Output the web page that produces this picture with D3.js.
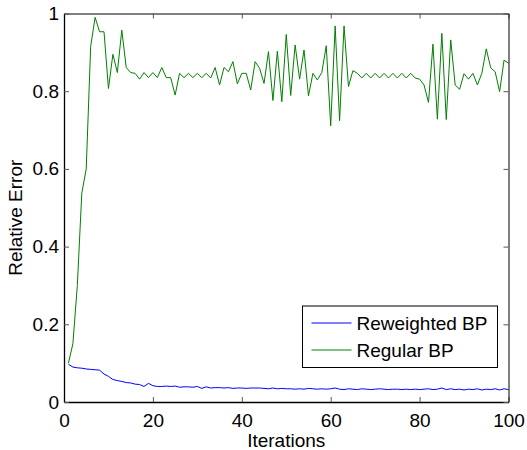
<!DOCTYPE html>
<html>
<head>
<meta charset="utf-8">
<script src="https://cdn.jsdelivr.net/npm/d3@7"></script>
<style>
  body { margin: 0; background: #fff; }
  svg { display: block; font-family: "Liberation Sans", Arial, sans-serif; }
</style>
</head>
<body>
<svg id="chart" width="527" height="450"></svg>
<script>
// iteration index 1..100
const iterations = d3.range(1, 101);

const regularBP = [
  0.100, 0.150, 0.300, 0.537, 0.600, 0.915, 0.990, 0.953, 0.953, 0.807,
  0.895, 0.848, 0.957, 0.861, 0.848, 0.846, 0.831, 0.848, 0.835, 0.848,
  0.835, 0.861, 0.835, 0.835, 0.790, 0.846, 0.835, 0.846, 0.835, 0.846,
  0.835, 0.846, 0.834, 0.861, 0.816, 0.861, 0.850, 0.876, 0.819, 0.846,
  0.846, 0.803, 0.876, 0.859, 0.820, 0.902, 0.776, 0.903, 0.773, 0.946,
  0.789, 0.919, 0.831, 0.906, 0.788, 0.846, 0.829, 0.848, 0.917, 0.711,
  0.968, 0.724, 0.968, 0.812, 0.853, 0.846, 0.834, 0.846, 0.834, 0.846,
  0.834, 0.846, 0.834, 0.846, 0.834, 0.846, 0.834, 0.846, 0.834, 0.831,
  0.816, 0.771, 0.921, 0.728, 0.949, 0.727, 0.932, 0.816, 0.805, 0.845,
  0.831, 0.846, 0.816, 0.846, 0.909, 0.860, 0.850, 0.799, 0.880, 0.872
];

const reweightedBP = [
  0.097, 0.090, 0.088, 0.087, 0.085, 0.084, 0.083, 0.082, 0.072, 0.066,
  0.058, 0.055, 0.053, 0.050, 0.049, 0.046, 0.045, 0.040, 0.048, 0.042,
  0.040, 0.040, 0.041, 0.040, 0.041, 0.038, 0.039, 0.039, 0.038, 0.040,
  0.035, 0.039, 0.036, 0.037, 0.037, 0.036, 0.037, 0.035, 0.036, 0.036,
  0.035, 0.036, 0.036, 0.036, 0.035, 0.034, 0.036, 0.034, 0.035, 0.034,
  0.034, 0.033, 0.034, 0.033, 0.035, 0.034, 0.033, 0.034, 0.033, 0.034,
  0.036, 0.033, 0.032, 0.034, 0.033, 0.032, 0.034, 0.033, 0.032, 0.033,
  0.034, 0.033, 0.032, 0.033, 0.033, 0.032, 0.033, 0.032, 0.033, 0.032,
  0.033, 0.034, 0.032, 0.033, 0.036, 0.032, 0.034, 0.032, 0.033, 0.031,
  0.033, 0.032, 0.034, 0.031, 0.033, 0.032, 0.034, 0.031, 0.034, 0.032
];

const xTicks = [0, 20, 40, 60, 80, 100];
const yTicks = [0, 0.2, 0.4, 0.6, 0.8, 1];

const series = [
  { name: 'Reweighted BP', values: reweightedBP, color: '#0000ff' },
  { name: 'Regular BP', values: regularBP, color: '#008000' },
];

const width = 527, height = 450;
const margin = { top: 13.5, right: 18.5, bottom: 48, left: 64 };
const fontSize = 19;
const svg = d3.select('#chart');

const x = d3.scaleLinear().domain([0, 100]).range([margin.left, width - margin.right]);
const y = d3.scaleLinear().domain([0, 1]).range([height - margin.bottom, margin.top]);

// plot lines first so the box sits on top
const line = d3.line().x((d, i) => x(iterations[i])).y((d) => y(d));
svg.append('g')
  .selectAll('path')
  .data(series.slice().reverse())
  .join('path')
  .attr('fill', 'none')
  .attr('stroke', (d) => d.color)
  .attr('stroke-width', 1)
  .attr('d', (d) => line(d.values));

// axes, ticks pointing inward like matlab
const tickLen = 5;
svg.append('g')
  .attr('transform', `translate(0,${y(0)})`)
  .call(d3.axisBottom(x).tickValues(xTicks).tickFormat(String).tickSizeInner(-tickLen).tickSizeOuter(0).tickPadding(12))
  .call((g) => g.select('.domain').attr('stroke-width', 1.3));
svg.append('g')
  .attr('transform', `translate(0,${y(1)})`)
  .call(d3.axisTop(x).tickValues(xTicks).tickFormat('').tickSizeInner(-tickLen).tickSizeOuter(0))
  .call((g) => g.select('.domain').attr('stroke-width', 1));
svg.append('g')
  .attr('transform', `translate(${x(0)},0)`)
  .call(d3.axisLeft(y).tickValues(yTicks).tickFormat(String).tickSizeInner(-tickLen).tickSizeOuter(0).tickPadding(5))
  .call((g) => g.select('.domain').attr('stroke-width', 1.3));
svg.append('g')
  .attr('transform', `translate(${x(100)},0)`)
  .call(d3.axisRight(y).tickValues(yTicks).tickFormat('').tickSizeInner(-tickLen).tickSizeOuter(0))
  .call((g) => g.select('.domain').attr('stroke-width', 1));

svg.selectAll('.tick text')
  .attr('font-size', fontSize)
  .attr('font-family', '"Liberation Sans", Arial, sans-serif')
  .attr('fill', '#000');
svg.selectAll('.tick line').attr('stroke', '#555');

// axis titles
svg.append('text')
  .attr('x', (x(0) + x(100)) / 2)
  .attr('y', 447)
  .attr('text-anchor', 'middle')
  .attr('font-size', fontSize)
  .text('Iterations');
svg.append('text')
  .attr('transform', `translate(22,${(y(0) + y(1)) / 2 + 10}) rotate(-90)`)
  .attr('text-anchor', 'middle')
  .attr('font-size', fontSize)
  .text('Relative Error');

// legend
const legend = svg.append('g').attr('transform', 'translate(302.5,306)');
legend.append('rect')
  .attr('width', 195)
  .attr('height', 61.5)
  .attr('fill', '#fff')
  .attr('stroke', '#000')
  .attr('stroke-width', 1);
const items = legend.selectAll('g')
  .data(series)
  .join('g')
  .attr('transform', (d, i) => `translate(0,${17 + i * 27})`);
items.append('line')
  .attr('x1', 9).attr('x2', 49)
  .attr('stroke', (d) => d.color)
  .attr('stroke-width', 1);
items.append('text')
  .attr('x', 54)
  .attr('dy', '0.35em')
  .attr('font-size', fontSize)
  .text((d) => d.name);
</script>
</body>
</html>
